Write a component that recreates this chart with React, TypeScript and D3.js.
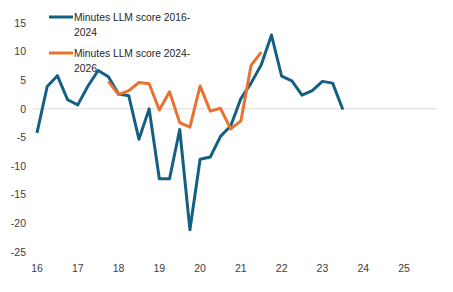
import React from 'react';
import * as d3 from 'd3';

// quarterly scores, first point at start of year
const blueStart = 16;
const blueValues = [
  -4.2, 3.9, 5.8, 1.6, 0.7, 4.0, 6.7, 5.6, 2.6, 2.3, -5.3, 0.0,
  -12.2, -12.2, -3.6, -21.1, -8.8, -8.4, -4.8, -3.0, 1.8, 4.5, 7.7, 12.9,
  5.7, 4.9, 2.4, 3.2, 4.8, 4.5, -0.1,
];
const orangeStart = 17.75;
const orangeValues = [
  4.8, 2.5, 3.2, 4.6, 4.4, -0.2, 3.0, -2.4, -3.2, 4.0, -0.4, 0.1,
  -3.5, -2.1, 7.6, 9.9,
];
const yTicks = [15, 10, 5, 0, -5, -10, -15, -20, -25];
const xTicks = [16, 17, 18, 19, 20, 21, 22, 23, 24, 25];
const seriesNames = [
  ['Minutes LLM score 2016-', '2024'],
  ['Minutes LLM score 2024-', '2026'],
];

const BLUE = '#156082';
const ORANGE = '#E97132';
const FONT = '"Liberation Sans", Arial, sans-serif';

const App = () => {
  const width = 453;
  const height = 292;

  const xScale = d3.scaleLinear().domain([16, 25]).range([37, 404]);
  const yScale = d3.scaleLinear().domain([-25, 15]).range([252, 23]);

  const toPoints = (start: number, vals: number[]) =>
    vals.map((v, i) => ({ x: start + i / 4, y: v }));

  const line = d3.line<{ x: number; y: number }>()
    .x(d => xScale(d.x))
    .y(d => yScale(d.y));

  const series = [
    { pts: toPoints(blueStart, blueValues), color: BLUE },
    { pts: toPoints(orangeStart, orangeValues), color: ORANGE },
  ];

  return (
    <svg width={width} height={height} style={{ position: 'absolute', left: 0, top: 0 }}>
      <rect width={width} height={height} fill="#fff" />
      <line x1={xScale(15.9)} x2={xScale(25.8)} y1={yScale(0)} y2={yScale(0)}
        stroke="#d9d9d9" strokeWidth={1} />
      {yTicks.map(t => (
        <text key={t} x={26} y={yScale(t)} dy="0.35em" textAnchor="end"
          fontFamily={FONT} fontSize={10.5} fill="#404040">{t}</text>
      ))}
      {xTicks.map(t => (
        <text key={t} x={xScale(t)} y={268} dy="0.35em" textAnchor="middle"
          fontFamily={FONT} fontSize={10.5} fill="#404040">{t}</text>
      ))}
      {series.map((s, i) => (
        <path key={i} d={line(s.pts) || ''} fill="none" stroke={s.color}
          strokeWidth={3} strokeLinejoin="round" />
      ))}
      {seriesNames.map((lines, i) => {
        const y = 17 + i * 36;
        return (
          <g key={i}>
            <line x1={49} x2={73} y1={y} y2={y} stroke={series[i].color} strokeWidth={3} />
            <text x={74} y={y} dy="0.35em" fontFamily={FONT} fontSize={10.3} fill="#262626">
              <tspan x={74}>{lines[0]}</tspan>
              <tspan x={74} dy={15}>{lines[1]}</tspan>
            </text>
          </g>
        );
      })}
    </svg>
  );
};

export default App;
